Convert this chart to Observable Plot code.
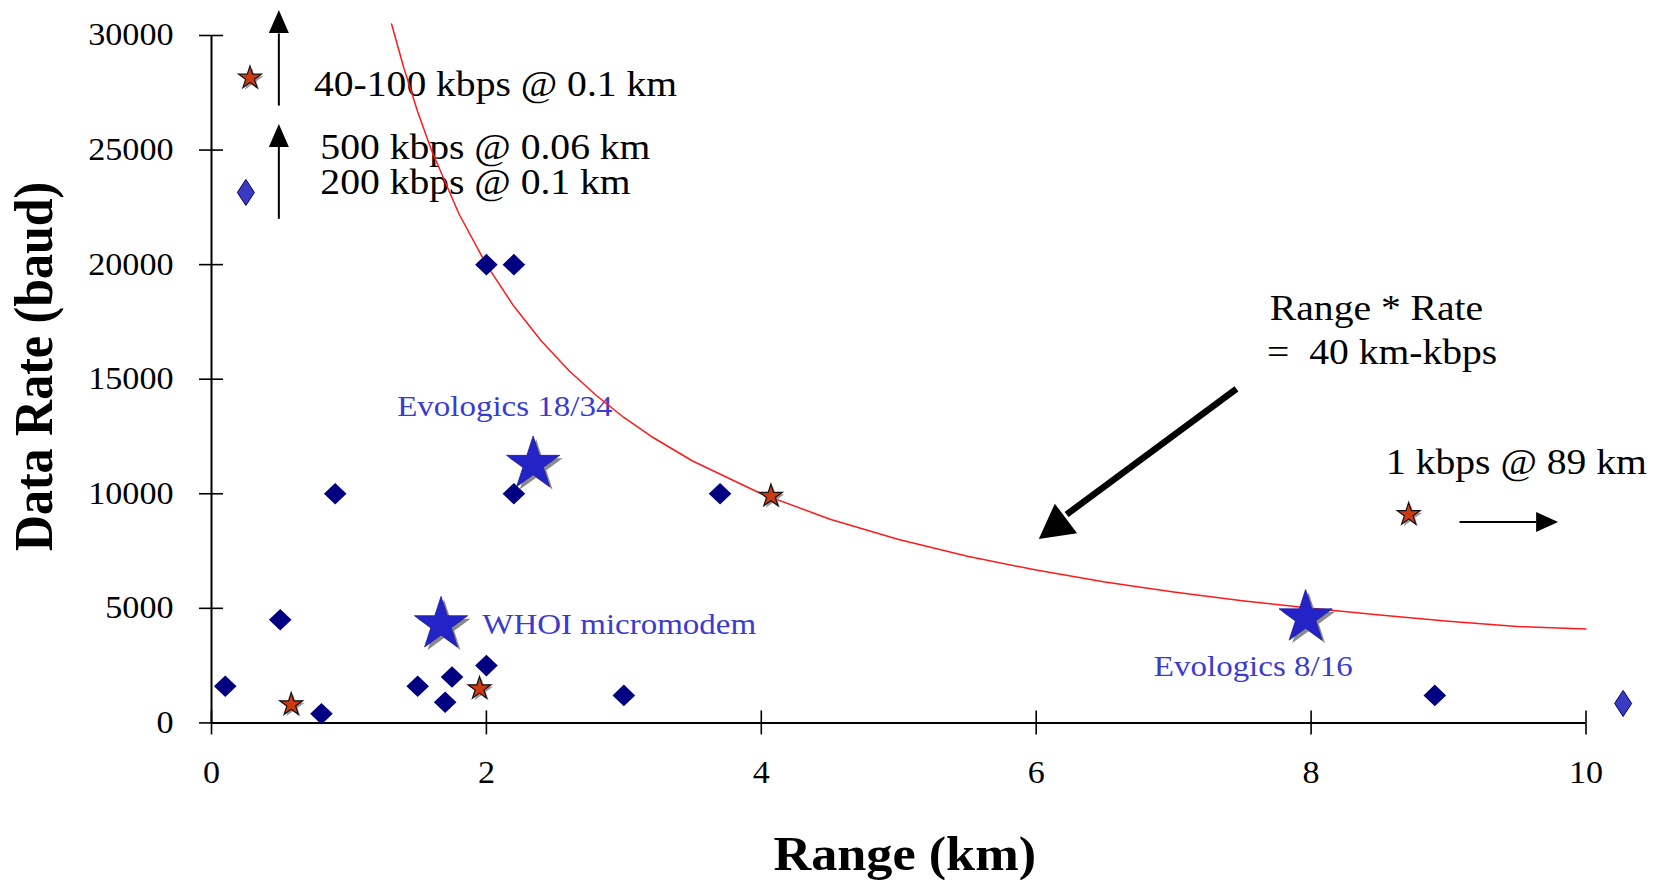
<!DOCTYPE html>
<html><head><meta charset="utf-8">
<script src="https://cdn.jsdelivr.net/npm/d3@7"></script>
<script src="https://cdn.jsdelivr.net/npm/@observablehq/plot@0.6"></script>
<style>html,body{margin:0;padding:0;background:#fff;overflow:hidden}</style>
</head><body><div id="chart"></div>
<script>
// ---- data ----
const xTicks = [0, 2, 4, 6, 8, 10];
const yTicks = [0, 5000, 10000, 15000, 20000, 25000, 30000];

// navy diamonds (modems)
const diamondRange = [0.1, 0.5, 0.8, 0.9, 1.5, 1.7, 1.75, 2.0, 2.0, 2.2, 2.2, 3.0, 3.7, 8.9];
const diamondRate  = [1600, 4500, 400, 10000, 1600, 900, 2000, 2500, 20000, 10000, 20000, 1200, 10000, 1200];

// lighter blue diamonds (off-scale entries)
const offRange = [0.25, 10.27];
const offRate  = [23150, 850];

// red stars
const redRange = [0.28, 0.58, 1.95, 4.07, 8.71];
const redRate  = [28150, 800, 1500, 9900, 9100];

// big blue stars (named modems)
const modemName  = ["Evologics 18/34", "WHOI micromodem", "Evologics 8/16"];
const modemRange = [2.34, 1.67, 7.96];
const modemRate  = [11300, 4300, 4600];
const modemLabelRange = [1.351, 1.97, 6.856];
const modemLabelRate  = [13830, 4320, 2450];

// Range * Rate = 40 km-kbps curve
const curveRange = [1.31, 1.4, 1.5, 1.6, 1.8, 2.0, 2.2, 2.4, 2.6, 2.8, 3.0, 3.2, 3.5, 4.0, 4.5, 5.0, 5.5, 6.0, 6.5, 7.0, 7.5, 8.0, 8.5, 9.0, 9.5, 10.0];
const curveRate  = [30500, 28570, 26670, 25000, 22220, 20000, 18180, 16670, 15380, 14290, 13330, 12500, 11430, 10000, 8890, 8000, 7270, 6670, 6150, 5710, 5330, 5000, 4710, 4440, 4210, 4100];

// annotation texts
const noteText  = ["40-100 kbps @ 0.1 km", "500 kbps @ 0.06 km", "200 kbps @ 0.1 km", "Range * Rate", "= \u00a040 km-kbps", "1 kbps @ 89 km"];
const noteRange = [0.746, 0.792, 0.792, 7.70, 7.68, 8.545];
const noteRate  = [27880, 25120, 23590, 18070, 16170, 11370];

// arrows: shaft start, shaft end, head tip
const arrowKind = ["up", "up", "right", "diag"];
const arrowX1 = [0.49, 0.49, 9.08, 7.457];
const arrowY1 = [26940, 22000, 8770, 14580];
const arrowX2 = [0.49, 0.49, 9.637, 6.221];
const arrowY2 = [30090, 25140, 8770, 9095];
const tipX = [0.49, 0.49, 9.797, 6.019];
const tipY = [31110, 26140, 8770, 8030];

const xTitle = "Range (km)";
const yTitle = "Data Rate (baud)";

// ---- tables ----
const diamonds = diamondRange.map((x, i) => ({x, y: diamondRate[i]}));
const offs = offRange.map((x, i) => ({x, y: offRate[i]}));
const reds = redRange.map((x, i) => ({x, y: redRate[i]}));
const modems = modemName.map((name, i) => ({name, x: modemRange[i], y: modemRate[i], lx: modemLabelRange[i], ly: modemLabelRate[i]}));
const curve = curveRange.map((x, i) => ({x, y: curveRate[i]}));
const notes = noteText.map((t, i) => ({t, x: noteRange[i], y: noteRate[i]}));
const arrows = arrowKind.map((k, i) => ({k, x1: arrowX1[i], y1: arrowY1[i], x2: arrowX2[i], y2: arrowY2[i], tx: tipX[i], ty: tipY[i]}));

// ---- symbols ----
const rhomb = (hw, hh) => ({draw(ctx) { ctx.moveTo(0, -hh); ctx.lineTo(hw, 0); ctx.lineTo(0, hh); ctx.lineTo(-hw, 0); ctx.closePath(); }});
const head = (len, hw) => ({draw(ctx) { ctx.moveTo(0, 0); ctx.lineTo(hw, len); ctx.lineTo(-hw, len); ctx.closePath(); }});

const serif = "Liberation Serif, Times New Roman, serif";

const svg = Plot.plot({
  width: 1661,
  height: 880,
  marginLeft: 211,
  marginRight: 75.5,
  marginTop: 35,
  marginBottom: 157.6,
  x: {domain: [0, 10]},
  y: {domain: [0, 30000]},
  style: {fontFamily: serif, fontSize: "31px", background: "#fff", color: "#000"},
  marks: [
    // axis lines
    Plot.ruleX([0], {y1: 0, y2: 30000, stroke: "#000", strokeWidth: 2}),
    Plot.ruleY([0], {x1: 0, x2: 10, stroke: "#000", strokeWidth: 2}),
    // crossing ticks
    Plot.axisY(yTicks, {tickSize: 24, dx: 12, tickFormat: () => "", strokeWidth: 1.6, label: null}),
    Plot.axisX(xTicks, {tickSize: 24, dy: -12, tickFormat: () => "", strokeWidth: 1.6, label: null}),
    // tick labels
    Plot.axisY(yTicks, {tickSize: 0, tickPadding: 38, tickFormat: d => String(d), fontSize: 31, fill: "#000", label: null}),
    Plot.axisX(xTicks, {tickSize: 0, tickPadding: 38, tickFormat: d => String(d), fontSize: 31, fill: "#000", label: null}),
    // axis titles
    Plot.text([xTitle], {text: d => d, frameAnchor: "bottom", dx: 6, dy: 132, textAnchor: "middle", lineAnchor: "middle", fontSize: 47.5, fontWeight: "bold", fill: "#000"}),
    Plot.text([yTitle], {text: d => d, frameAnchor: "left", dx: -177, dy: -12.7, rotate: -90, textAnchor: "middle", lineAnchor: "middle", fontSize: 50, fontWeight: "bold", fill: "#000"}),
    // annotation texts
    Plot.text(notes, {x: "x", y: "y", text: "t", textAnchor: "start", lineAnchor: "middle", fontSize: 36, fill: "#000"}),
    Plot.text(modems, {x: "lx", y: "ly", text: "name", textAnchor: "start", lineAnchor: "middle", fontSize: 30, fill: "#3b3bd0"}),
    // red curve
    Plot.line(curve, {x: "x", y: "y", stroke: "#ff1a1a", strokeWidth: 1.5}),
    // diamonds
    Plot.dot(diamonds, {x: "x", y: "y", symbol: rhomb(11.3, 10.8), fill: "#000080", stroke: "none", r: 5}),
    Plot.dot(offs, {x: "x", y: "y", symbol: rhomb(8.5, 13), fill: "#3a3ac4", stroke: "#000060", strokeWidth: 1, r: 5}),
    // red stars with shadow
    Plot.dot(reds, {x: "x", y: "y", symbol: "star", r: 7.2, fill: "#9a9a9a", stroke: "none", dx: 2, dy: 2}),
    Plot.dot(reds, {x: "x", y: "y", symbol: "star", r: 7.2, fill: "#cc3a10", stroke: "#111", strokeWidth: 1.2}),
    // big blue stars with shadow
    Plot.dot(modems, {x: "x", y: "y", symbol: "star", r: 16.7, fill: "#8a8a8a", stroke: "none", dx: 3, dy: 3}),
    Plot.dot(modems, {x: "x", y: "y", symbol: "star", r: 16.7, fill: "#2323c8", stroke: "#1a1aa0", strokeWidth: 0.8}),
    // arrows
    Plot.link(arrows.filter(d => d.k !== "diag"), {x1: "x1", y1: "y1", x2: "x2", y2: "y2", stroke: "#000", strokeWidth: 2}),
    Plot.link(arrows.filter(d => d.k === "diag"), {x1: "x1", y1: "y1", x2: "x2", y2: "y2", stroke: "#000", strokeWidth: 6.5}),
    Plot.dot(arrows.filter(d => d.k === "up"), {x: "tx", y: "ty", symbol: head(23, 10), fill: "#000", stroke: "none", r: 5}),
    Plot.dot(arrows.filter(d => d.k === "right"), {x: "tx", y: "ty", symbol: head(22, 10), rotate: 90, fill: "#000", stroke: "none", r: 5}),
    Plot.dot(arrows.filter(d => d.k === "diag"), {x: "tx", y: "ty", symbol: head(34, 18.5), rotate: 233, fill: "#000", stroke: "none", r: 5})
  ]
});

// the reference's lettering is horizontally widened
const S = 1.1;
d3.select(svg).selectAll("text").each(function() {
  const el = this;
  let t = el.getAttribute("transform");
  if (t == null) {
    const x = +el.getAttribute("x") || 0, y = +el.getAttribute("y") || 0;
    el.removeAttribute("x"); el.removeAttribute("y");
    t = `translate(${x},${y})`;
  }
  const rotated = /rotate\(/.test(t);
  el.setAttribute("transform", t + (rotated ? ` scale(1,${S})` : ` scale(${S},1)`));
});
d3.select(svg).style("white-space", "pre");

document.getElementById("chart").appendChild(svg);
</script>
</body></html>
